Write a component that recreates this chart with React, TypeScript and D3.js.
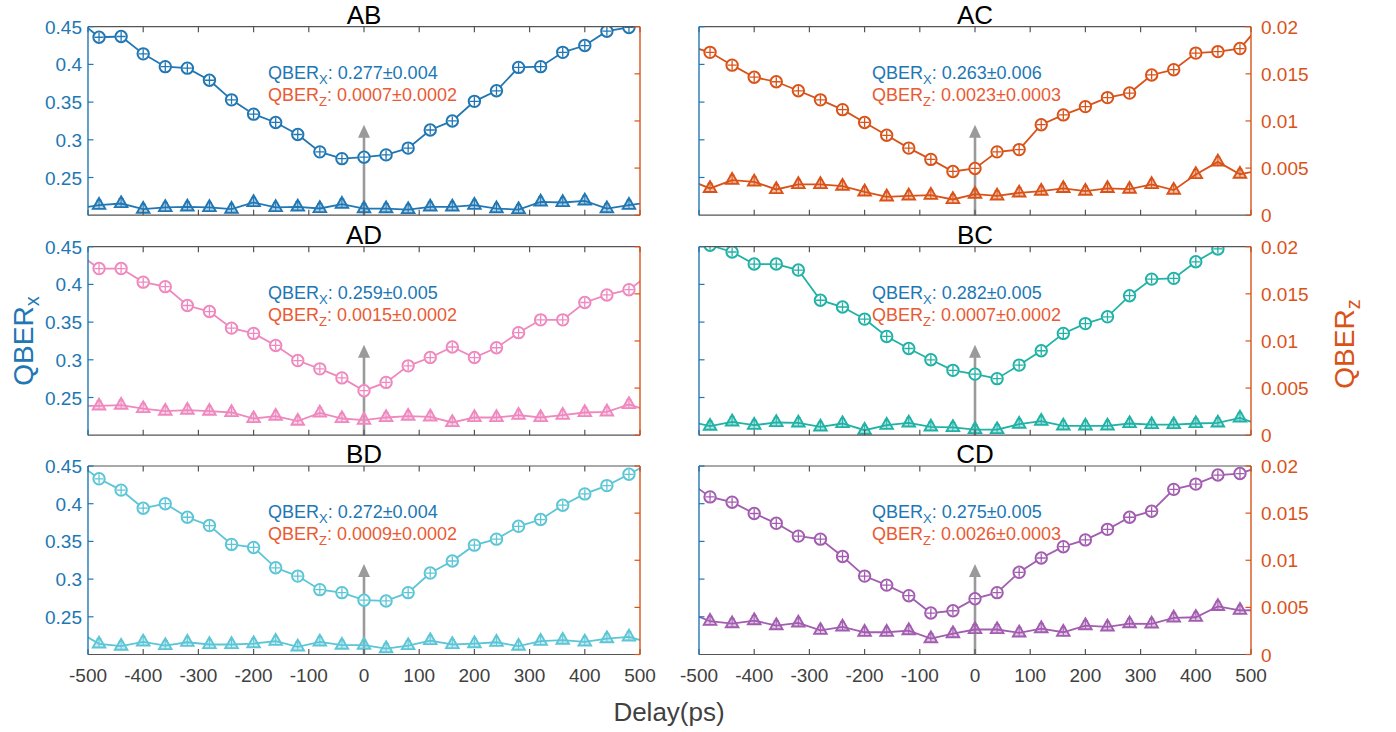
import * as d3 from 'd3'
import { useEffect, useRef } from 'react'

// delays (ps); the outer two points sit just outside the axes and get clipped
const delays = [-520, -480, -440, -400, -360, -320, -280, -240, -200, -160, -120, -80, -40, 0, 40, 80, 120, 160, 200, 240, 280, 320, 360, 400, 440, 480, 520]

const xTicks = [-500, -400, -300, -200, -100, 0, 100, 200, 300, 400, 500]
const leftTicks = [0.25, 0.3, 0.35, 0.4, 0.45]
const rightTicks = [0, 0.005, 0.01, 0.015, 0.02]
const rightTickLabels = ['0', '0.005', '0.01', '0.015', '0.02']

const panelNames = ['AB', 'AC', 'AD', 'BC', 'BD', 'CD']
const panelColors = ['#2077b4', '#d95319', '#ef88be', '#20b2a6', '#5cc6d6', '#a25cb0']

// QBER_X (circles, left axis)
const abX = [0.46, 0.436, 0.437, 0.414, 0.397, 0.395, 0.379, 0.353, 0.334, 0.323, 0.307, 0.284, 0.275, 0.277, 0.28, 0.289, 0.313, 0.325, 0.351, 0.365, 0.396, 0.397, 0.416, 0.425, 0.444, 0.449, 0.455]
const acX = [0.425, 0.416, 0.399, 0.383, 0.377, 0.365, 0.353, 0.34, 0.323, 0.306, 0.289, 0.274, 0.258, 0.262, 0.284, 0.287, 0.32, 0.333, 0.344, 0.356, 0.362, 0.386, 0.393, 0.415, 0.417, 0.421, 0.455]
const adX = [0.442, 0.421, 0.421, 0.403, 0.397, 0.372, 0.364, 0.342, 0.335, 0.319, 0.299, 0.288, 0.276, 0.259, 0.27, 0.292, 0.303, 0.317, 0.303, 0.316, 0.336, 0.353, 0.353, 0.376, 0.386, 0.393, 0.415]
const bcX = [0.47, 0.452, 0.443, 0.427, 0.427, 0.419, 0.379, 0.37, 0.354, 0.331, 0.315, 0.3, 0.286, 0.281, 0.275, 0.293, 0.312, 0.335, 0.348, 0.357, 0.385, 0.407, 0.408, 0.43, 0.447, 0.47, 0.49]
const bdX = [0.455, 0.433, 0.418, 0.394, 0.4, 0.382, 0.371, 0.346, 0.342, 0.315, 0.304, 0.286, 0.282, 0.272, 0.271, 0.282, 0.308, 0.324, 0.345, 0.353, 0.37, 0.379, 0.398, 0.413, 0.424, 0.439, 0.455]
const cdX = [0.43, 0.409, 0.402, 0.387, 0.374, 0.357, 0.353, 0.33, 0.304, 0.292, 0.278, 0.255, 0.258, 0.274, 0.282, 0.309, 0.328, 0.343, 0.352, 0.366, 0.382, 0.39, 0.419, 0.426, 0.438, 0.44, 0.45]

// QBER_Z (triangles, right axis)
const abZ = [0.0007, 0.00106, 0.00124, 0.00064, 0.00082, 0.00088, 0.00082, 0.00064, 0.00135, 0.00082, 0.00088, 0.00071, 0.00117, 0.0007, 0.0007, 0.0006, 0.00088, 0.00088, 0.00106, 0.0007, 0.0006, 0.00141, 0.00135, 0.00152, 0.0007, 0.00106, 0.0014]
const acZ = [0.0038, 0.00284, 0.00372, 0.00354, 0.00273, 0.00326, 0.00326, 0.00308, 0.00248, 0.00195, 0.00205, 0.00212, 0.00167, 0.00223, 0.00205, 0.00237, 0.00255, 0.00284, 0.00255, 0.00284, 0.00276, 0.00326, 0.00266, 0.00432, 0.00566, 0.00435, 0.0048]
const adZ = [0.0031, 0.00311, 0.00319, 0.00283, 0.00255, 0.00266, 0.00255, 0.00241, 0.00177, 0.00202, 0.00149, 0.00237, 0.00177, 0.00159, 0.00188, 0.00202, 0.00195, 0.00135, 0.00188, 0.00188, 0.00212, 0.00188, 0.00212, 0.00241, 0.00248, 0.00326, 0.0025]
const bcZ = [0.0015, 0.00096, 0.00142, 0.00106, 0.00135, 0.00131, 0.00088, 0.00124, 0.00053, 0.00106, 0.00131, 0.00088, 0.00082, 0.0006, 0.0006, 0.00117, 0.00149, 0.00099, 0.00099, 0.00099, 0.00124, 0.00113, 0.00113, 0.00124, 0.00131, 0.00184, 0.001]
const bdZ = [0.0025, 0.00113, 0.00088, 0.00134, 0.00095, 0.0013, 0.00106, 0.00106, 0.00116, 0.00141, 0.00081, 0.00134, 0.00099, 0.00099, 0.00063, 0.00095, 0.00148, 0.00106, 0.00116, 0.0013, 0.00088, 0.00141, 0.00152, 0.00134, 0.00169, 0.00187, 0.0012]
const cdZ = [0.0045, 0.00353, 0.00328, 0.0036, 0.00307, 0.00335, 0.00257, 0.00293, 0.00236, 0.00236, 0.00254, 0.00169, 0.00222, 0.00265, 0.00265, 0.0023, 0.00275, 0.00236, 0.00307, 0.00293, 0.00328, 0.00325, 0.00388, 0.00395, 0.00511, 0.00469, 0.0047]

const panelX = [abX, acX, adX, bcX, bdX, cdX]
const panelZ = [abZ, acZ, adZ, bcZ, bdZ, cdZ]

const qberXText = ['0.277±0.004', '0.263±0.006', '0.259±0.005', '0.282±0.005', '0.272±0.004', '0.275±0.005']
const qberZText = ['0.0007±0.0002', '0.0023±0.0003', '0.0015±0.0002', '0.0007±0.0002', '0.0009±0.0002', '0.0026±0.0003']

const arrowTip = 0.32

const BLUE = '#2077b4'
const ORANGE = '#d95319'
const ZTEXT = '#ea5a33'
const GREY = '#555555'
const FONT = '"Liberation Sans", Arial, Helvetica, sans-serif'

const App = () => {
  const ref = useRef(null)

  useEffect(() => {
    if (!ref.current) return
    d3.select(ref.current).selectAll('*').remove()

    const width = 1396
    const height = 732
    const colLeft = [88, 699]
    const plotW = 552
    const rowTop = [26.7, 246.7, 466]
    const plotH = 188.5
    const tick = 5.5
    const textX = [268, 872]

    const svg = d3
      .select(ref.current)
      .append('svg')
      .attr('width', width)
      .attr('height', height)
      .style('position', 'absolute')
      .style('left', '0px')
      .style('top', '0px')
      .style('font-family', FONT)

    panelNames.forEach((name, i) => {
      const col = i % 2
      const row = Math.floor(i / 2)
      const x0 = colLeft[col]
      const y0 = rowTop[row]
      const color = panelColors[i]

      const x = d3.scaleLinear().domain([-500, 500]).range([x0, x0 + plotW])
      const yL = d3.scaleLinear().domain([0.2, 0.45]).range([y0 + plotH, y0])
      const yR = d3.scaleLinear().domain([0, 0.02]).range([y0 + plotH, y0])

      const g = svg.append('g')
      const clipId = `clip-${name}`
      g.append('clipPath')
        .attr('id', clipId)
        .append('rect')
        .attr('x', x0)
        .attr('y', y0)
        .attr('width', plotW)
        .attr('height', plotH)

      // arrow at zero delay
      const ax = x(0)
      const tipY = yL(arrowTip)
      g.append('line')
        .attr('x1', ax)
        .attr('x2', ax)
        .attr('y1', y0 + plotH)
        .attr('y2', tipY + 10)
        .attr('stroke', '#9a9a9a')
        .attr('stroke-width', 2.6)
      g.append('path')
        .attr('d', `M${ax},${tipY}L${ax - 6},${tipY + 13}L${ax + 6},${tipY + 13}Z`)
        .attr('fill', '#9a9a9a')

      const data = delays.map((d, k) => ({ d, qx: panelX[i][k], qz: panelZ[i][k] }))
      const plot = g.append('g').attr('clip-path', `url(#${clipId})`)

      const lineX = d3
        .line<any>()
        .x((p) => x(p.d))
        .y((p) => yL(p.qx))
      const lineZ = d3
        .line<any>()
        .x((p) => x(p.d))
        .y((p) => yR(p.qz))

      plot.append('path').attr('d', lineX(data)).attr('fill', 'none').attr('stroke', color).attr('stroke-width', 1.8)
      plot.append('path').attr('d', lineZ(data)).attr('fill', 'none').attr('stroke', color).attr('stroke-width', 1.8)

      // triangles
      const tri = d3.symbol().type(d3.symbolTriangle).size(68)
      const tg = plot
        .selectAll('g.tri')
        .data(data)
        .enter()
        .append('g')
        .attr('transform', (p) => `translate(${x(p.d)},${yR(p.qz)})`)
      tg.append('path')
        .attr('d', tri())
        .attr('fill', color)
        .attr('fill-opacity', 0.35)
        .attr('stroke', color)
        .attr('stroke-width', 1.9)
      tg.append('line').attr('x1', 0).attr('x2', 0).attr('y1', -5).attr('y2', 4).attr('stroke', color).attr('stroke-width', 1)
      tg.append('line').attr('x1', -2.5).attr('x2', 2.5).attr('y1', -5).attr('y2', -5).attr('stroke', color).attr('stroke-width', 1)

      // circles
      const cg = plot
        .selectAll('g.circ')
        .data(data)
        .enter()
        .append('g')
        .attr('transform', (p) => `translate(${x(p.d)},${yL(p.qx)})`)
      cg.append('circle').attr('r', 5.7).attr('fill', '#fff').attr('stroke', color).attr('stroke-width', 2)
      cg.append('line').attr('x1', 0).attr('x2', 0).attr('y1', -4.5).attr('y2', 4.5).attr('stroke', color).attr('stroke-width', 1.3)
      cg.append('line').attr('x1', -4.5).attr('x2', 4.5).attr('y1', 0).attr('y2', 0).attr('stroke', color).attr('stroke-width', 1.3)

      // frame + ticks
      const bottom = y0 + plotH
      const right = x0 + plotW
      g.append('line').attr('x1', x0).attr('x2', right).attr('y1', y0).attr('y2', y0).attr('stroke', GREY).attr('stroke-width', 1.2)
      g.append('line').attr('x1', x0).attr('x2', right).attr('y1', bottom).attr('y2', bottom).attr('stroke', GREY).attr('stroke-width', 1.2)
      xTicks.forEach((t) => {
        g.append('line').attr('x1', x(t)).attr('x2', x(t)).attr('y1', y0).attr('y2', y0 + tick).attr('stroke', GREY).attr('stroke-width', 1.2)
        g.append('line').attr('x1', x(t)).attr('x2', x(t)).attr('y1', bottom).attr('y2', bottom - tick).attr('stroke', GREY).attr('stroke-width', 1.2)
      })
      g.append('line').attr('x1', x0).attr('x2', x0).attr('y1', y0).attr('y2', bottom).attr('stroke', BLUE).attr('stroke-width', 1.4)
      g.append('line').attr('x1', right).attr('x2', right).attr('y1', y0).attr('y2', bottom).attr('stroke', ORANGE).attr('stroke-width', 1.4)
      leftTicks.forEach((t) => {
        g.append('line').attr('x1', x0).attr('x2', x0 + tick).attr('y1', yL(t)).attr('y2', yL(t)).attr('stroke', BLUE).attr('stroke-width', 1.2)
      })
      rightTicks.forEach((t) => {
        g.append('line').attr('x1', right).attr('x2', right - tick).attr('y1', yR(t)).attr('y2', yR(t)).attr('stroke', ORANGE).attr('stroke-width', 1.2)
      })

      if (col === 0) {
        leftTicks.forEach((t) => {
          g.append('text')
            .attr('x', x0 - 6)
            .attr('y', yL(t) + 7)
            .attr('text-anchor', 'end')
            .attr('fill', BLUE)
            .style('font-size', '19px')
            .text(String(t))
        })
      } else {
        rightTicks.forEach((t, k) => {
          g.append('text')
            .attr('x', right + 10)
            .attr('y', yR(t) + 7)
            .attr('fill', ORANGE)
            .style('font-size', '19px')
            .text(rightTickLabels[k])
        })
      }
      if (row === 2) {
        xTicks.forEach((t) => {
          g.append('text')
            .attr('x', x(t))
            .attr('y', bottom + 27)
            .attr('text-anchor', 'middle')
            .attr('fill', '#404040')
            .style('font-size', '19px')
            .text(String(t))
        })
      }

      // title
      g.append('text')
        .attr('x', x(0))
        .attr('y', y0 - 3)
        .attr('text-anchor', 'middle')
        .attr('fill', '#000')
        .style('font-size', '26px')
        .text(name)

      // annotations
      const t1 = g.append('text').attr('x', textX[col]).attr('y', y0 + 52).attr('fill', BLUE).style('font-size', '18px')
      t1.append('tspan').text('QBER')
      t1.append('tspan').attr('dy', 5).style('font-size', '13px').text('X')
      t1.append('tspan').attr('dy', -5).text(': ' + qberXText[i])
      const t2 = g.append('text').attr('x', textX[col]).attr('y', y0 + 74).attr('fill', ZTEXT).style('font-size', '18px')
      t2.append('tspan').text('QBER')
      t2.append('tspan').attr('dy', 5).style('font-size', '13px').text('Z')
      t2.append('tspan').attr('dy', -5).text(': ' + qberZText[i])
    })

    // axis titles
    const yl = svg.append('text').attr('transform', 'translate(33,341) rotate(-90)').attr('text-anchor', 'middle').attr('fill', BLUE).style('font-size', '28px')
    yl.append('tspan').text('QBER')
    yl.append('tspan').attr('dy', 6).style('font-size', '20px').text('x')

    const yr = svg.append('text').attr('transform', 'translate(1354,344) rotate(-90)').attr('text-anchor', 'middle').attr('fill', ORANGE).style('font-size', '28px')
    yr.append('tspan').text('QBER')
    yr.append('tspan').attr('dy', 6).style('font-size', '20px').text('z')

    svg
      .append('text')
      .attr('x', 669)
      .attr('y', 721)
      .attr('text-anchor', 'middle')
      .attr('fill', '#404040')
      .style('font-size', '26px')
      .text('Delay(ps)')
  }, [])

  return <div ref={ref} />
}

export default App
